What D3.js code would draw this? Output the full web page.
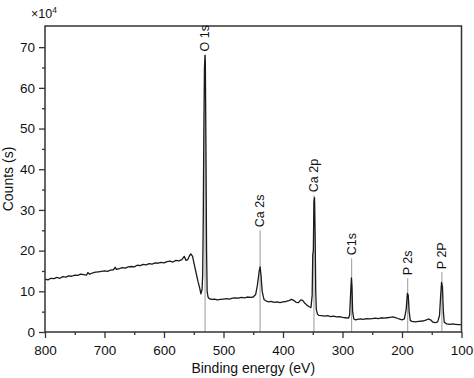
<!DOCTYPE html>
<html>
<head>
<meta charset="utf-8">
<script src="https://cdn.jsdelivr.net/npm/d3@7"></script>
<style>
  body { margin: 0; background: #fff; }
  text { font-family: "Liberation Sans", Arial, sans-serif; fill: #111; }
</style>
</head>
<body>
<div id="xps-chart"></div>
<script>
// XPS survey spectrum (counts in units of 10^4)
const energy = [800,795,790,785,780,775,770,765,760,755,750,745,740,735,730,728,725,720,715,710,705,700,695,690,685,682,680,675,670,665,660,655,650,645,640,635,630,625,620,615,610,605,600,595,590,585,580,575,570,566,563,560,557,555,552,549,546,543,540,538,536,535,534,533,532,531,530.5,529.5,528.5,527.5,526,524,520,515,510,505,500,495,490,485,480,475,470,465,460,455,450,446,443,440,438.5,437,435,432,428,424,420,415,410,405,400,395,390,386,382,378,374,370,367,364,360,356,353,351,350,349,348,347,346,345,344,342,340,335,330,325,320,315,310,305,300,295,290,288,286.5,285,284,283,281,278,275,270,265,260,255,250,245,240,235,230,225,220,215,210,205,200,196,193,191,189.5,188,186,183,178,172,165,160,156,152,148,144,140,137,135,133.5,132,130.5,129,125,120,115,110,105,100];
const counts = [13.0,12.8,13.2,13.1,13.4,13.2,13.6,13.5,13.8,13.7,14.0,13.9,14.2,14.1,14.0,14.6,14.2,14.5,14.7,14.8,14.9,15.0,14.9,15.2,15.3,15.9,15.4,15.6,15.8,15.7,16.0,16.1,16.0,16.4,16.3,16.6,16.5,16.8,16.7,17.0,16.9,17.1,17.0,17.3,17.4,17.2,17.6,17.5,17.8,18.6,17.6,17.8,18.8,19.2,18.6,16.5,14.5,12.5,10.8,9.4,10.5,14,28,50,65,68,66,45,20,10,8.6,8.2,8.0,8.1,7.9,8.0,8.1,8.2,8.1,8.3,8.4,8.3,8.5,8.4,8.6,8.5,8.6,9.2,11.5,15,16,14,10,8.0,7.6,7.4,7.5,7.3,7.4,7.2,7.4,7.5,7.7,8.0,7.8,7.3,7.2,7.9,7.8,7.2,6.6,6.2,6.0,9,19,20,32,33,24,10,5.5,4.4,4.1,4.0,3.9,4.0,3.8,3.9,3.7,3.8,3.6,3.5,3.4,4.2,9,13.3,11,5,3.2,3.0,3.1,3.2,3.1,3.3,3.2,3.3,3.4,3.3,3.5,3.4,3.5,3.6,3.7,3.5,3.2,3.0,3.2,5.5,9.5,9,5,2.8,2.6,2.5,2.6,2.7,2.9,3.2,3.0,2.4,2.3,2.5,4,9,12.2,11,5,2.4,2.0,1.9,2.0,1.9,1.8,1.8];

const peakNames = ["O 1s", "Ca 2s", "Ca 2p", "C1s", "P 2s", "P 2P"];
const peakEnergy = [531, 438.5, 348, 284.6, 190.4, 133];
const peakLabelAt = [68.2, 25, 33.6, 18.1, 13.2, 14.7];

const xTicks = [800, 700, 600, 500, 400, 300, 200, 100];
const xMinor = [750, 650, 550, 450, 350, 250, 150];
const yTicks = [0, 10, 20, 30, 40, 50, 60, 70];
const yMinor = [5, 15, 25, 35, 45, 55, 65];

(function spectrum() {
  let width = 474,
      height = 378,
      margin = ({ top: 26, right: 12.5, bottom: 46, left: 45 });

  const svg = d3.select("#xps-chart")
    .append("svg")
    .attr("width", width)
    .attr("height", height);

  let x = d3.scaleLinear()
    .domain([800, 100])
    .range([margin.left, width - margin.right]);

  let y = d3.scaleLinear()
    .domain([0, 75.2])
    .range([height - margin.bottom, margin.top]);

  const axisColor = "#333";

  // peak marker lines
  svg.append("g")
    .selectAll("line")
    .data(peakEnergy)
    .join("line")
    .attr("x1", d => x(d)).attr("x2", d => x(d))
    .attr("y1", y(0))
    .attr("y2", (d, i) => y(peakLabelAt[i]))
    .attr("stroke", "#9a9a9a")
    .attr("stroke-width", 1);

  // spectrum
  const pts = energy.map((e, i) => [e, counts[i]]);
  svg.append("path")
    .datum(pts)
    .attr("fill", "none")
    .attr("stroke", "#1a1a1a")
    .attr("stroke-width", 1.3)
    .attr("stroke-linejoin", "round")
    .attr("d", d3.line().x(d => x(d[0])).y(d => y(d[1])));

  // frame
  svg.append("rect")
    .attr("x", x(800)).attr("y", y(75.2))
    .attr("width", x(100) - x(800))
    .attr("height", y(0) - y(75.2))
    .attr("fill", "none")
    .attr("stroke", axisColor)
    .attr("stroke-width", 1.5);

  // axes
  svg.append("g")
    .attr("transform", `translate(0,${y(0)})`)
    .call(d3.axisBottom(x).tickValues(xTicks).tickSize(6).tickPadding(7).tickFormat(d3.format("d")));
  svg.append("g")
    .attr("transform", `translate(0,${y(0)})`)
    .call(d3.axisBottom(x).tickValues(xMinor).tickSize(3).tickFormat(""));

  svg.append("g")
    .attr("transform", `translate(${margin.left},0)`)
    .call(d3.axisLeft(y).tickValues(yTicks).tickSize(6).tickPadding(4));
  svg.append("g")
    .attr("transform", `translate(${margin.left},0)`)
    .call(d3.axisLeft(y).tickValues(yMinor).tickSize(3).tickFormat(""));

  svg.selectAll(".domain").remove();
  svg.selectAll(".tick line").attr("stroke", axisColor).attr("stroke-width", 1.3);
  svg.selectAll(".tick text")
    .style("font-family", "Liberation Sans, Arial, sans-serif")
    .style("font-size", "13.5px")
    .attr("fill", "#111");

  // peak labels
  svg.append("g")
    .selectAll("text")
    .data(peakNames)
    .join("text")
    .attr("transform", (d, i) => `translate(${x(peakEnergy[i])},${y(peakLabelAt[i]) - 3}) rotate(-90)`)
    .attr("dy", "0.35em")
    .style("font-size", "12.5px")
    .text(d => d);

  // axis titles
  svg.append("text")
    .attr("x", (x(800) + x(100)) / 2)
    .attr("y", 373)
    .attr("text-anchor", "middle")
    .style("font-size", "14px")
    .text("Binding energy (eV)");

  svg.append("text")
    .attr("transform", `translate(13,${(y(0) + y(75.2)) / 2}) rotate(-90)`)
    .attr("text-anchor", "middle")
    .style("font-size", "14px")
    .text("Counts (s)");

  const mult = svg.append("text")
    .attr("x", 31)
    .attr("y", 18)
    .style("font-size", "12.5px");
  mult.append("tspan").text("\u00d710");
  mult.append("tspan").attr("dy", -5).style("font-size", "8.5px").text("4");
})();
</script>
</body>
</html>
